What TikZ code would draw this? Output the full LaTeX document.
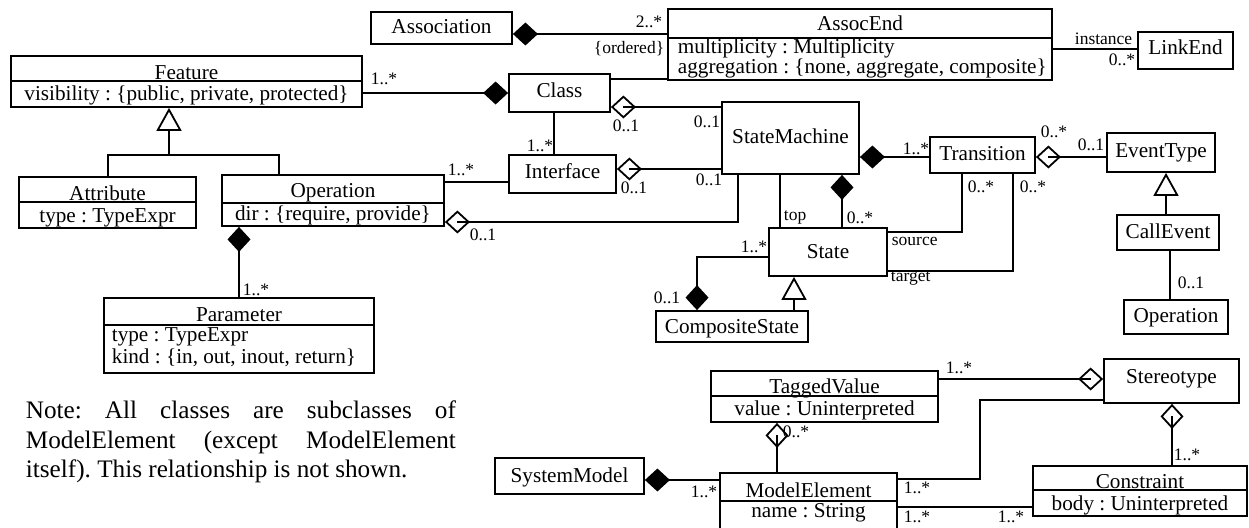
\documentclass[tikz,border=0pt]{standalone}
\usepackage{fontspec}
\setmainfont{Liberation Serif}
\usepackage{tikz}
\usetikzlibrary{arrows.meta}
\frenchspacing

\begin{document}
\begin{tikzpicture}[x=1pt,y=-1pt,line width=1.8pt,
 box/.style={draw,inner sep=0pt},
 nm/.style={inner sep=0pt,anchor=base,font=\fontsize{21.2}{25}\selectfont},
 attl/.style={nm,anchor=base west},
 lbl/.style={inner sep=0pt,anchor=base west,font=\fontsize{17.5}{20}\selectfont},
 comp/.style={-{Diamond[length=25pt,width=23pt]}},
 aggr/.style={-{Diamond[open,length=25pt,width=23pt]},postaction={draw,-,shorten >=12.5pt}},
 gen/.style={-{Triangle[open,length=23pt,width=25pt]}}]
\useasboundingbox (0,0) rectangle (1249,527);

%boxes
\node[box,minimum width=351pt,minimum height=51pt] (feature) at (186.5,81.5) {};
\node[nm] (featureN) at (186.5,79) {Feature};
\node[nm] (featureA) at (186.5,100) {visibility : \{public, private, protected\}};
\draw (feature.west |- 0,81) -- (feature.east |- 0,81);

\node[box,minimum width=141pt,minimum height=32pt] (assoc) at (441.5,28) {};
\node[nm] (assocN) at (441.5,34) {Association};

\node[box,minimum width=384pt,minimum height=71pt] (assocend) at (860,44.5) {};
\node[nm] (assocendN) at (860,31) {AssocEnd};
\draw (assocend.west |- 0,38) -- (assocend.east |- 0,38);
\node[attl] (assocendA) at (677,54) {multiplicity : Multiplicity};
\node[attl] (assocendB) at (677,74) {aggregation : \{none, aggregate, composite\}};

\node[box,minimum width=95pt,minimum height=37pt] (linkend) at (1185.5,50.5) {};
\node[nm] (linkendN) at (1185.5,55) {LinkEnd};

\node[box,minimum width=101pt,minimum height=38pt] (class) at (559.5,93) {};
\node[nm] (classN) at (559.5,97) {Class};

\node[box,minimum width=107pt,minimum height=38pt] (iface) at (562.5,174) {};
\node[nm] (ifaceN) at (562.5,178) {Interface};

\node[box,minimum width=137pt,minimum height=72pt] (sm) at (790.5,138) {};
\node[nm] (smN) at (790.5,143) {StateMachine};

\node[box,minimum width=105pt,minimum height=36pt] (trans) at (982.5,155) {};
\node[nm] (transN) at (982.5,160) {Transition};

\node[box,minimum width=108pt,minimum height=39pt] (evtype) at (1161,152.5) {};
\node[nm] (evtypeN) at (1161,157) {EventType};

\node[box,minimum width=102pt,minimum height=35pt] (callev) at (1168,232.5) {};
\node[nm] (callevN) at (1168,238) {CallEvent};

\node[box,minimum width=104pt,minimum height=34pt] (oper2) at (1176,317) {};
\node[nm] (oper2N) at (1176,322) {Operation};

\node[box,minimum width=118pt,minimum height=48pt] (state) at (828,252) {};
\node[nm] (stateN) at (828,258) {State};

\node[box,minimum width=152pt,minimum height=31pt] (compstate) at (732,326.5) {};
\node[nm] (compstateN) at (732,333) {CompositeState};

\node[box,minimum width=177pt,minimum height=51pt] (attr) at (107.5,202.5) {};
\node[nm] (attrN) at (107.5,200) {Attribute};
\draw (attr.west |- 0,202) -- (attr.east |- 0,202);
\node[nm] (attrA) at (107.5,222) {type : TypeExpr};

\node[box,minimum width=222pt,minimum height=51pt] (oper) at (333,200.5) {};
\node[nm] (operN) at (333,197) {Operation};
\draw (oper.west |- 0,203) -- (oper.east |- 0,203);
\node[nm] (operA) at (333,220) {dir : \{require, provide\}};

\node[box,minimum width=270pt,minimum height=75pt] (param) at (239,335.5) {};
\node[nm] (paramN) at (239,321) {Parameter};
\draw (param.west |- 0,325) -- (param.east |- 0,325);
\node[attl] (paramA) at (111,341) {type : TypeExpr};
\node[attl] (paramB) at (111,363) {kind : \{in, out, inout, return\}};

\node[box,minimum width=149pt,minimum height=36pt] (sysmodel) at (569.5,476) {};
\node[nm] (sysmodelN) at (569.5,482) {SystemModel};

\node[box,minimum width=227pt,minimum height=51pt] (tagval) at (824.5,396.5) {};
\node[nm] (tagvalN) at (824.5,393) {TaggedValue};
\draw (tagval.west |- 0,396) -- (tagval.east |- 0,396);
\node[nm] (tagvalA) at (824.5,415) {value : Uninterpreted};

\node[box,minimum width=177pt,minimum height=72pt] (modelel) at (808.5,509) {};
\node[nm] (modelelN) at (808.5,497) {ModelElement};
\draw (modelel.west |- 0,501) -- (modelel.east |- 0,501);
\node[nm] (modelelA) at (808.5,517) {name : String};

\node[box,minimum width=135pt,minimum height=44pt] (stereo) at (1171.5,381) {};
\node[nm] (stereoN) at (1171.5,383) {Stereotype};

\node[box,minimum width=214pt,minimum height=50pt] (constr) at (1140,491) {};
\node[nm] (constrN) at (1140,488) {Constraint};
\draw (constr.west |- 0,490) -- (constr.east |- 0,490);
\node[nm] (constrA) at (1140,510) {body : Uninterpreted};

%note
\node[anchor=north west,inner sep=0pt,align=left,font=\fontsize{25.2}{29.5}\selectfont] (note) at (25,397.35)
 {\strut\makebox[430pt][s]{Note: All classes are subclasses of}\\
  \makebox[430pt][s]{ModelElement (except ModelElement}\\
  itself). This relationship is not shown.};

%generalizations
\coordinate (fork) at (169,155);
\draw (attr.north -| 108,0) |- (fork) -| (oper.north -| 279,0);
\draw[gen] (fork) -- (feature.south -| fork);
\draw[gen] (callev.north -| 1166,0) -- (evtype.south -| 1166,0);
\draw[gen] (compstate.north -| 794,0) -- (state.south -| 794,0);

%associations
\draw[comp] (feature.east |- 0,93) -- (class.west |- 0,93);
\node[lbl] (m1) at (370,84) {1..*};

\draw[comp] (assocend.west |- 0,34) -- (assoc.east |- 0,34);
\node[lbl] (m2) at (635,28) {2..*};
\node[lbl] (m3) at (593,53) {\{ordered\}};

\draw (class.east |- 0,79) -- (assocend.west |- 0,79);

\draw (assocend.east |- 0,49) -- (linkend.west |- 0,49);
\node[lbl] (m4) at (1074,45) {instance};
\node[lbl] (m5) at (1108,65) {0..*};

\draw[aggr] (sm.west |- 0,107) -- (class.east |- 0,107);
\node[lbl] (m6) at (612,131) {0..1};
\node[lbl] (m7) at (693,127) {0..1};

\draw (class.south -| 554,0) -- (iface.north -| 554,0);
\node[lbl] (m8) at (526,151) {1..*};

\draw (oper.east |- 0,182) -- (iface.west |- 0,182);
\node[lbl] (m9) at (447,175) {1..*};

\draw[aggr] (sm.west |- 0,169) -- (iface.east |- 0,169);
\node[lbl] (m10) at (620,193) {0..1};
\node[lbl] (m11) at (695,185) {0..1};

\draw[aggr] (sm.south -| 738,0) |- (oper.east |- 0,222);
\node[lbl] (m12) at (469,240) {0..1};

\draw[comp] (trans.west |- 0,157) -- (sm.east |- 0,157);
\node[lbl] (m13) at (902,154) {1..*};

\draw[aggr] (evtype.west |- 0,157) -- (trans.east |- 0,157);
\node[lbl] (m14) at (1040,137) {0..*};
\node[lbl] (m15) at (1077,150) {0..1};

\draw (callev.south -| 1170,0) -- (oper2.north -| 1170,0);
\node[lbl] (m16) at (1177,288) {0..1};

\draw (trans.south -| 962,0) |- (state.east |- 0,232);
\node[lbl] (m17) at (967,192) {0..*};
\node[lbl] (m18) at (891,245) {source};

\draw (trans.south -| 1013,0) |- (state.east |- 0,271);
\node[lbl] (m19) at (1019,192) {0..*};
\node[lbl] (m20) at (890,281) {target};

\draw (sm.south -| 780,0) -- (state.north -| 780,0);
\node[lbl] (m21) at (783,220) {top};

\draw[comp] (state.north -| 842,0) -- (sm.south -| 842,0);
\node[lbl] (m22) at (846,223) {0..*};

\draw[comp] (state.west |- 0,257) -| (compstate.north -| 697,0);
\node[lbl] (m23) at (740,252) {1..*};
\node[lbl] (m24) at (653,303) {0..1};

\draw[comp] (param.north -| 239,0) -- (oper.south -| 239,0);
\node[lbl] (m25) at (242,295) {1..*};

\draw[aggr] (tagval.east |- 0,379) -- (stereo.west |- 0,379);
\node[lbl] (m26) at (945,373) {1..*};

\draw[aggr] (modelel.north -| 777,0) -- (tagval.south -| 777,0);
\node[lbl] (m27) at (782,437) {0..*};

\draw[comp] (modelel.west |- 0,480) -- (sysmodel.east |- 0,480);
\node[lbl] (m28) at (690,497) {1..*};

\draw (modelel.east |- 0,479) -- (980,479) |- (stereo.west |- 0,400);
\node[lbl] (m29) at (903,493) {1..*};

\draw[aggr] (constr.north -| 1172,0) -- (stereo.south -| 1172,0);
\node[lbl] (m30) at (1173,460) {1..*};

\draw (modelel.east |- 0,507) -- (constr.west |- 0,507);
\node[lbl] (m31) at (903,522) {1..*};
\node[lbl] (m32) at (997,522) {1..*};
\end{tikzpicture}
\end{document}
